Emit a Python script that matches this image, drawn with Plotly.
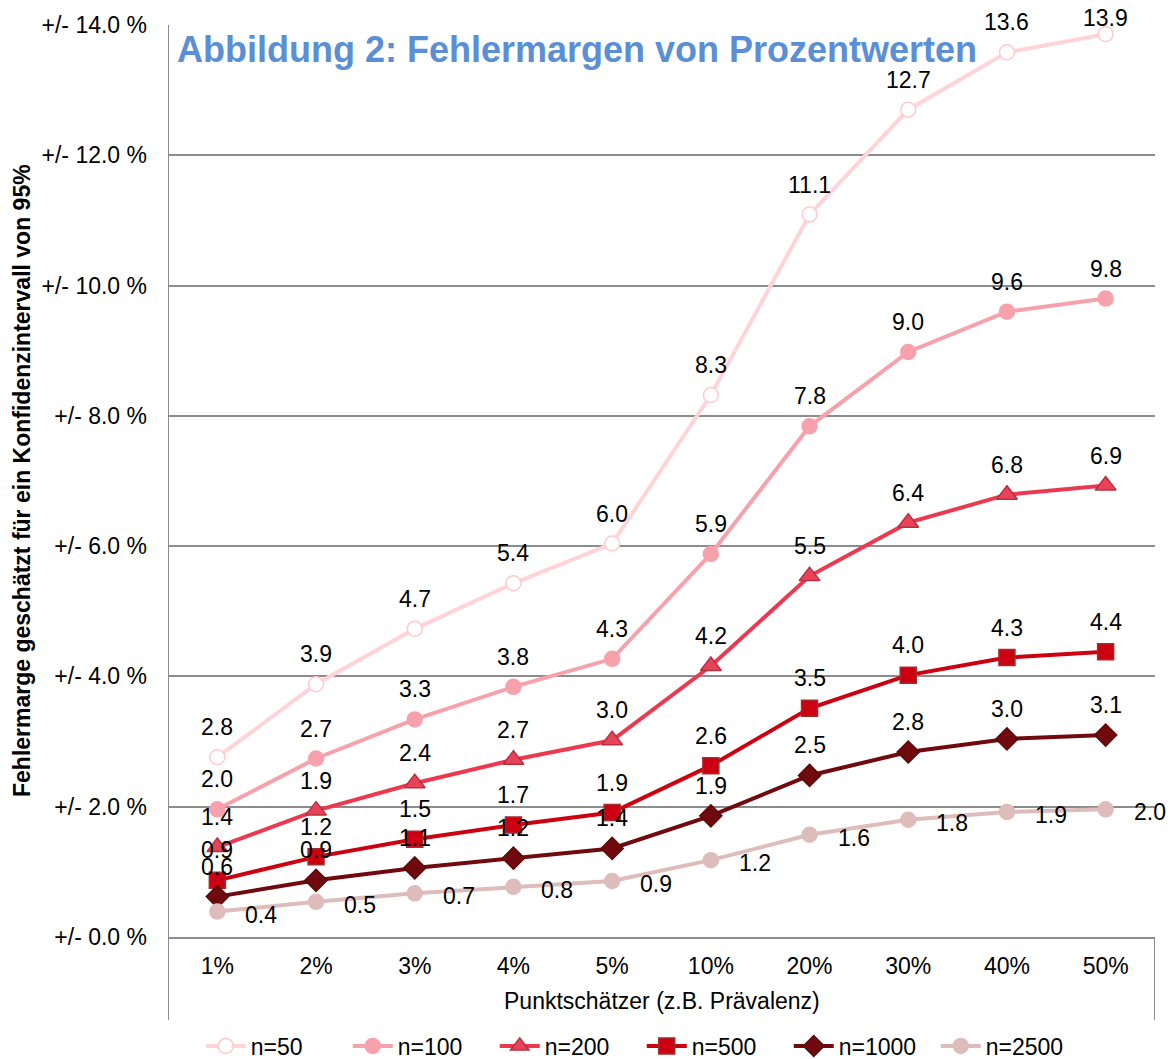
import plotly.graph_objects as go

# Punktschätzer (Kategorien)
categories = ["1%", "2%", "3%", "4%", "5%", "10%", "20%", "30%", "40%", "50%"]

# Fehlermargen (+/- Prozentpunkte) je Stichprobengröße
n50 = [2.76, 3.88, 4.73, 5.43, 6.04, 8.32, 11.09, 12.70, 13.58, 13.86]
n100 = [1.96, 2.74, 3.34, 3.84, 4.27, 5.88, 7.84, 8.98, 9.60, 9.80]
n200 = [1.38, 1.94, 2.36, 2.72, 3.02, 4.16, 5.54, 6.36, 6.79, 6.93]
n500 = [0.87, 1.23, 1.50, 1.72, 1.91, 2.63, 3.51, 4.02, 4.29, 4.38]
n1000 = [0.62, 0.87, 1.06, 1.21, 1.36, 1.86, 2.48, 2.84, 3.04, 3.10]
n2500 = [0.39, 0.54, 0.67, 0.77, 0.86, 1.18, 1.57, 1.80, 1.92, 1.96]

series_names = ["n=50", "n=100", "n=200", "n=500", "n=1000", "n=2500"]
y_ticks = [0, 2, 4, 6, 8, 10, 12, 14]
y_ticktext = ["+/- %.1f %%" % v for v in y_ticks]

FONT = "Liberation Sans, Arial, sans-serif"
GRID = "#8c8c8c"
FS = 23

styles = [
    dict(line="#ffd3d8", symbol="circle", size=15, fill="white", edge="#ffc9cf", pos="top"),
    dict(line="#f7a1ac", symbol="circle", size=15, fill="#f7a1ac", edge="#f7a1ac", pos="top"),
    dict(line="#ec3950", symbol="triangle-up", size=18, fill="#e8435a", edge="#b8303f", pos="top"),
    dict(line="#cc0010", symbol="square", size=16, fill="#cc0010", edge="#a02c2c", pos="top"),
    dict(line="#700a0e", symbol="diamond", size=17, fill="#700a0e", edge="#5a0a0a", pos="top"),
    dict(line="#dfbcbc", symbol="circle", size=15, fill="#dfbcbc", edge="#dfbcbc", pos="right"),
]

fig = go.Figure()
annotations = []
for name, values, st in zip(series_names, [n50, n100, n200, n500, n1000, n2500], styles):
    fig.add_trace(go.Scatter(
        x=categories, y=values, name=name, mode="lines+markers",
        line=dict(color=st["line"], width=4),
        marker=dict(symbol=st["symbol"], size=st["size"], color=st["fill"],
                    line=dict(color=st["edge"], width=1.5)),
        cliponaxis=False,
    ))
    for c, v in zip(categories, values):
        if st["pos"] == "top":
            shift = 30 if v < 13.7 else 16
            annotations.append(dict(x=c, y=v, text="%.1f" % v, showarrow=False,
                                    yshift=shift, font=dict(size=FS, color="black")))
        else:
            annotations.append(dict(x=c, y=v, text="%.1f" % v, showarrow=False,
                                    xanchor="left", xshift=26, yshift=-3,
                                    font=dict(size=FS, color="black")))

annotations.append(dict(xref="paper", yref="paper", x=0.007, y=0.9726, xanchor="left",
                        yanchor="middle", showarrow=False,
                        text="<b>Abbildung 2: Fehlermargen von Prozentwerten</b>",
                        font=dict(size=36, color="#5a8fd6")))
annotations.append(dict(xref="paper", yref="paper", x=-0.148, y=0.501, textangle=-90,
                        xanchor="center", yanchor="middle", showarrow=False,
                        text="<b>Fehlermarge geschätzt für ein Konfidenzintervall von 95%</b>",
                        font=dict(size=FS, color="black")))
annotations.append(dict(xref="paper", yref="paper", x=0.5, y=-0.0702,
                        xanchor="center", yanchor="middle", showarrow=False,
                        text="Punktschätzer (z.B. Prävalenz)",
                        font=dict(size=FS, color="black")))

fig.update_layout(
    width=1168, height=1059,
    margin=dict(l=168, r=13, t=25, b=122),
    paper_bgcolor="white", plot_bgcolor="white",
    font=dict(family=FONT, size=FS, color="black"),
    annotations=annotations,
    showlegend=True,
    legend=dict(orientation="h", x=0.48, xanchor="center", yref="container",
                y=1 - 1046 / 1059, yanchor="middle", font=dict(size=FS), itemwidth=40,
                entrywidth=92, entrywidthmode="pixels"),
    shapes=[
        dict(type="line", xref="x", yref="paper", x0=-0.5, x1=-0.5, y0=1, y1=-0.091,
             line=dict(color=GRID, width=2)),
        dict(type="line", xref="x", yref="paper", x0=9.5, x1=9.5, y0=0, y1=-0.091,
             line=dict(color=GRID, width=2)),
    ],
)
fig.update_xaxes(type="category", range=[-0.5, 9.5], showgrid=False, showline=True,
                 linecolor=GRID, linewidth=2, ticks="", ticklabelstandoff=7,
                 tickfont=dict(size=FS))
fig.update_yaxes(range=[0, 14], tickvals=y_ticks, ticktext=y_ticktext, showgrid=True,
                 gridcolor=GRID, gridwidth=1.5, zeroline=False, showline=False,
                 ticks="", ticklabelstandoff=20, tickfont=dict(size=FS))

fig.write_html("out.html", config={"displayModeBar": False},
               post_script="document.body.style.margin='0';document.body.style.overflow='hidden';")
